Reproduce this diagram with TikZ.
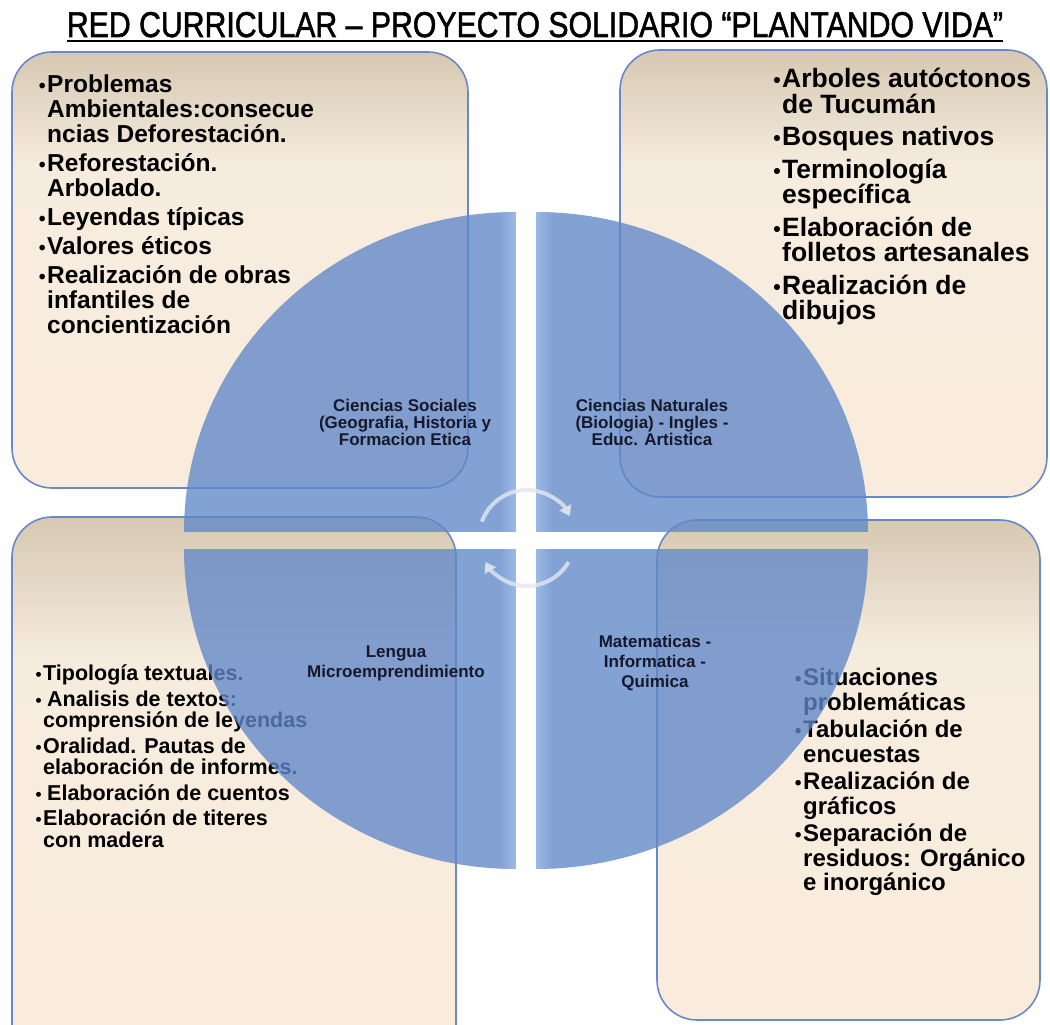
\documentclass[tikz,border=0pt]{standalone}
\usepackage{fontspec}
\setmainfont{Liberation Sans}
\newfontfamily\titlefont[FakeBold=1.6]{Liberation Sans}
\usetikzlibrary{arrows.meta}
\definecolor{quadblue}{RGB}{96,136,201}
\definecolor{quadlight}{RGB}{178,206,245}
\definecolor{boxedge}{RGB}{104,136,200}
\definecolor{boxtop}{RGB}{214,200,178}
\definecolor{boxmid}{RGB}{246,236,222}
\definecolor{boxbot}{RGB}{250,236,221}
\definecolor{labeltext}{RGB}{22,24,44}
\definecolor{cyccol}{RGB}{228,231,242}
\pgfdeclareverticalshading{panelshade}{100bp}{color(0bp)=(boxbot); color(25bp)=(boxbot); color(62bp)=(boxmid); color(75bp)=(boxtop); color(100bp)=(boxtop)}
\newcommand{\bu}{\makebox[0pt][r]{\scalebox{0.8}{•}\hspace{1.5pt}}}
\begin{document}
\begin{tikzpicture}[x=1pt,y=1pt,
  panel/.style={draw=boxedge, line width=1.6pt, rounded corners=40pt, shade, shading=panelshade, inner sep=0pt},
  itemtext/.style={anchor=north west, inner sep=0pt, align=left, text=black},
  quadlabel/.style={align=center, inner sep=0pt, font=\bfseries\fontsize{17}{17}\selectfont, text=labeltext},
  quadfill/.style={fill=quadblue, fill opacity=0.78},
  cyc/.style={draw=cyccol, opacity=0.8, line width=4pt, -{Triangle[length=10pt,width=13pt]}},
]
\useasboundingbox (0,0) rectangle (1050,1025);
\clip (0,0) rectangle (1050,1025);
\fill[white] (0,0) rectangle (1050,1025);

% title
\node[inner sep=0pt, anchor=base] (title) at (535,988)
  {\resizebox{936pt}{25pt}{\titlefont RED CURRICULAR – PROYECTO SOLIDARIO “PLANTANDO VIDA”}};
\draw[line width=2pt] ([yshift=-4pt]title.base west) -- ([yshift=-4pt]title.base east);

% panels
\node[panel, minimum width=456pt, minimum height=436pt] (boxTL) at (240,755) {};
\node[panel, minimum width=427pt, minimum height=447pt] (boxTR) at (833.5,751.5) {};
\node[panel, minimum width=444pt, minimum height=548pt] (boxBL) at (234,234) {};
\node[panel, minimum width=383pt, minimum height=500pt] (boxBR) at (848.5,255) {};

% panel texts
\node[itemtext, font=\bfseries\fontsize{24.5}{25}\selectfont] (txtTL) at (47,950) {%
\bu Problemas\\
Ambientales:consecue\\
ncias Deforestación.\\[4pt]
\bu Reforestación.\\
Arbolado.\\[4pt]
\bu Leyendas típicas\\[4pt]
\bu Valores éticos\\[4pt]
\bu Realización de obras\\
infantiles de\\
concientización};

\node[itemtext, font=\bfseries\fontsize{26.5}{25.5}\selectfont] (txtTR) at (782,957) {%
\bu Arboles autóctonos\\
de Tucumán\\[7pt]
\bu Bosques nativos\\[7pt]
\bu Terminología\\
específica\\[7pt]
\bu Elaboración de\\
folletos artesanales\\[7pt]
\bu Realización de\\
dibujos};

\node[itemtext, font=\bfseries\fontsize{21.5}{21.5}\selectfont] (txtBL) at (43,360) {%
\bu Tipología textuales.\\[4pt]
\bu\hspace{4pt}Analisis de textos:\\
comprensión de leyendas\\[4pt]
\bu Oralidad. Pautas de\\
elaboración de informes.\\[4pt]
\bu\hspace{4pt}Elaboración de cuentos\\[4pt]
\bu Elaboración de titeres\\
con madera};

\node[itemtext, font=\bfseries\fontsize{24}{24.5}\selectfont] (txtBR) at (803,357) {%
\bu Situaciones\\
problemáticas\\[3pt]
\bu Tabulación de\\
encuestas\\[3pt]
\bu Realización de\\
gráficos\\[3pt]
\bu Separación de\\
residuos: Orgánico\\
e inorgánico};

% circle quadrants
\begin{scope}
  \clip (170,493) rectangle (516,830);
  \clip (516,493) ellipse[x radius=332pt, y radius=320pt];
  \fill[quadfill] (170,493) rectangle (516,830);
  \foreach \i in {0,...,7}{\pgfmathsetmacro\op{0.5*(1-\i/8)}
    \fill[quadlight, fill opacity=\op] ({514-2*\i},493) rectangle ++(2,330);}
\end{scope}
\begin{scope}
  \clip (536,493) rectangle (880,830);
  \clip (536,493) ellipse[x radius=332pt, y radius=320pt];
  \fill[quadfill] (536,493) rectangle (880,830);
  \foreach \i in {0,...,7}{\pgfmathsetmacro\op{0.5*(1-\i/8)}
    \fill[quadlight, fill opacity=\op] ({536+2*\i},493) rectangle ++(2,330);}
\end{scope}
\begin{scope}
  \clip (170,476) rectangle (516,140);
  \clip (516,476) ellipse[x radius=332pt, y radius=320pt];
  \fill[quadfill] (170,476) rectangle (516,140);
  \foreach \i in {0,...,7}{\pgfmathsetmacro\op{0.5*(1-\i/8)}
    \fill[quadlight, fill opacity=\op] ({514-2*\i},476) rectangle ++(2,-330);}
\end{scope}
\begin{scope}
  \clip (536,476) rectangle (880,140);
  \clip (536,476) ellipse[x radius=332pt, y radius=320pt];
  \fill[quadfill] (536,476) rectangle (880,140);
  \foreach \i in {0,...,7}{\pgfmathsetmacro\op{0.5*(1-\i/8)}
    \fill[quadlight, fill opacity=\op] ({536+2*\i},476) rectangle ++(2,-330);}
\end{scope}

% quadrant labels
\node[quadlabel] (lblTL) at (405,603) {Ciencias Sociales\\(Geografia, Historia y\\Formacion Etica};
\node[quadlabel] (lblTR) at (652,603) {Ciencias Naturales\\(Biologia) - Ingles -\\Educ. Artistica};
\node[quadlabel, font=\bfseries\fontsize{17}{20}\selectfont] (lblBL) at (396,362) {Lengua\\Microemprendimiento};
\node[quadlabel, font=\bfseries\fontsize{17}{20}\selectfont] (lblBR) at (655,362) {Matematicas -\\Informatica -\\Quimica};

% cycle arrows
\coordinate (rc) at (527,487);
\draw[cyc] ([shift={(160:48pt)}]rc) arc[start angle=160, end angle=27, radius=48pt];
\draw[cyc] ([shift={(-30:48pt)}]rc) arc[start angle=-30, end angle=-150, radius=48pt];
\end{tikzpicture}
\end{document}
